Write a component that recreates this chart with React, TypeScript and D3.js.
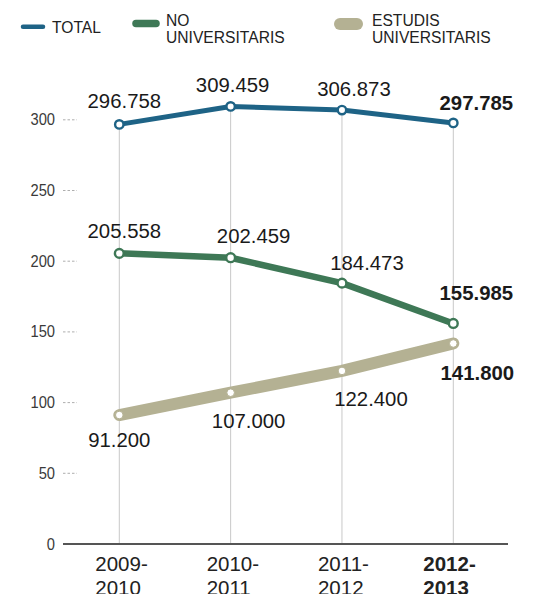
import * as React from 'react';
import * as d3 from 'd3';

const years = ['2009-2010', '2010-2011', '2011-2012', '2012-2013'];
const total = [296.758, 309.459, 306.873, 297.785];
const noUniv = [205.558, 202.459, 184.473, 155.985];
const univ = [91.2, 107.0, 122.4, 141.8];
const yTicks = [0, 50, 100, 150, 200, 250, 300];
const legendItems = [
  { key: 'total', lines: ['TOTAL'] },
  { key: 'nouniv', lines: ['NO', 'UNIVERSITARIS'] },
  { key: 'univ', lines: ['ESTUDIS', 'UNIVERSITARIS'] },
];

const series = [
  { key: 'total', values: total, color: '#1e6386', width: 5, r: 4.2, sw: 2.4 },
  { key: 'nouniv', values: noUniv, color: '#3e7856', width: 6.5, r: 4.4, sw: 2.4 },
  { key: 'univ', values: univ, color: '#b4b193', width: 12, r: 3.8, sw: 1 },
];

// label offsets from each point (dx, dy to baseline)
const labelOffsets: { [k: string]: [number, number][] } = {
  total: [[5, -16], [2, -14], [12, -14], [23, -13]],
  nouniv: [[5, -15], [23, -15], [25, -13], [23, -23]],
  univ: [[0, 32], [18, 35], [29, 35], [24, 37]],
};
// legend layout: swatch x1, x2, y, thickness, text x, first baseline
const legendLayout = [
  { x1: 23, x2: 43, sy: 26.7, th: 4.5, tx: 52, ty: 33 },
  { x1: 136, x2: 156, sy: 23.5, th: 7.5, tx: 166, ty: 25.5 },
  { x1: 340, x2: 357, sy: 24, th: 12, tx: 372, ty: 25.5 },
];

const fmt = (v: number) => v.toFixed(3);
const FONT = '"Liberation Sans", Arial, Helvetica, sans-serif';

export default function App() {
  const W = 534, H = 594;
  const x = d3.scalePoint<string>().domain(years).range([119.3, 453.3]);
  const y = d3.scaleLinear().domain([0, 300]).range([544, 119.8]);
  const line = d3.line<number>().x((_, i) => x(years[i])!).y(d => y(d));
  const last = years.length - 1;

  return (
    <svg width={W} height={H} style={{ position: 'absolute', left: 0, top: 0, background: '#fff' }} fontFamily={FONT}>
      {/* legend */}
      {legendItems.map((it, k) => {
        const L = legendLayout[k];
        return (
          <g key={it.key}>
            <line x1={L.x1} x2={L.x2} y1={L.sy} y2={L.sy} stroke={series[k].color} strokeWidth={L.th} strokeLinecap="round" />
            {it.lines.map((t, j) => (
              <text key={j} transform={`translate(${L.tx},${L.ty + j * 17.5}) scale(0.92,1)`} fontSize={17} fill="#222">{t}</text>
            ))}
          </g>
        );
      })}

      {/* y ticks */}
      {yTicks.map(t => (
        <g key={t}>
          <text transform={`translate(55,${y(t) + 5.5}) scale(0.92,1)`} fontSize={16} fill="#3a3a3a" textAnchor="end">{t}</text>
          {t > 0 && <line x1={63} x2={77} y1={y(t)} y2={y(t)} stroke="#999" strokeWidth={0.8} strokeDasharray="2.5,2" />}
        </g>
      ))}

      {/* vertical guides */}
      {years.map((yr, i) => (
        <line key={yr} x1={x(yr)} x2={x(yr)} y1={y(total[i])} y2={y(0)} stroke="#c8c8c8" strokeWidth={1} />
      ))}

      {/* x axis */}
      <line x1={63} x2={508} y1={y(0)} y2={y(0)} stroke="#555" strokeWidth={2} />
      {years.map((yr, i) => {
        const [a, b] = yr.split('-');
        const bold = i === last;
        const lx = x(yr)! - (bold ? 30 : 24);
        return (
          <text key={yr} x={lx} y={571} fontSize={20.5} fill="#222" fontWeight={bold ? 'bold' : 'normal'}>
            <tspan x={lx}>{a}-</tspan>
            <tspan x={lx} dy={24}>{b}</tspan>
          </text>
        );
      })}

      {/* lines */}
      {series.slice().reverse().map(s => (
        <path key={s.key} d={line(s.values)!} fill="none" stroke={s.color} strokeWidth={s.width}
          strokeLinecap="round" strokeLinejoin="round" />
      ))}
      {series.map(s => s.values.map((v, i) => (
        <circle key={s.key + i} cx={x(years[i])} cy={y(v)} r={s.r} fill="#fff" stroke={s.color} strokeWidth={s.sw} />
      )))}

      {/* value labels */}
      {series.map(s => s.values.map((v, i) => {
        const [dx, dy] = labelOffsets[s.key][i];
        return (
          <text key={'l' + s.key + i} transform={`translate(${x(years[i])! + dx},${y(v) + dy}) scale(0.97,1)`}
            fontSize={21} fill="#1a1a1a" textAnchor="middle" fontWeight={i === last ? 'bold' : 'normal'}>{fmt(v)}</text>
        );
      }))}
    </svg>
  );
}
